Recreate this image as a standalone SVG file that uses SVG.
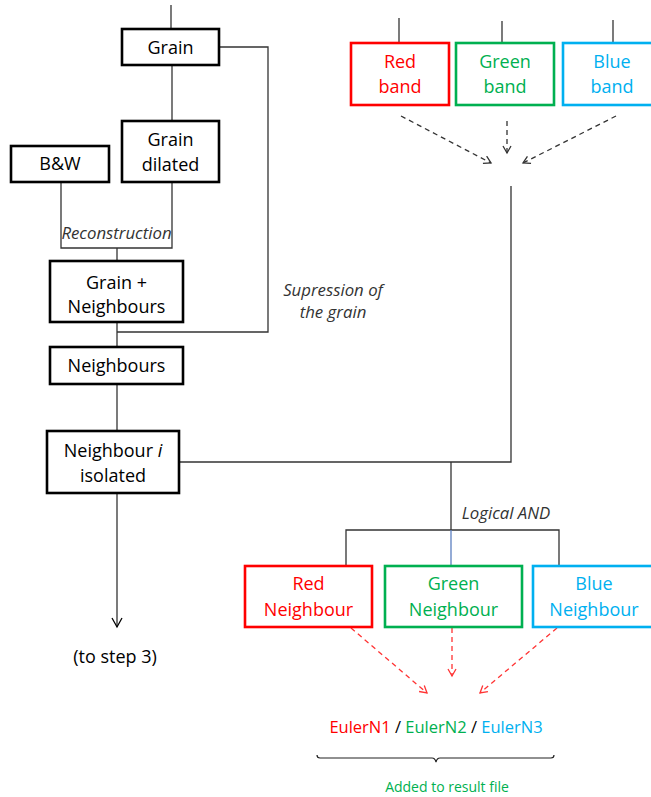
<svg xmlns="http://www.w3.org/2000/svg" width="651" height="797" viewBox="0 0 651 797">
<style>
text{font-family:"Open Sans","Liberation Sans",sans-serif;font-size:18px;text-anchor:middle}
.it{font-style:italic;font-size:16.8px;fill:#333}
.eu{font-size:16.5px}
.sm{font-size:14px}
.box{fill:#fff;stroke:#000;stroke-width:2.6}
.r{stroke:#ff0000}.g{stroke:#00b050}.b{stroke:#00b0f0}
.tr{fill:#ff0000}.tg{fill:#00b050}.tb{fill:#00b0f0}
.ln{fill:none;stroke:#333;stroke-width:1.3}
.dk{fill:none;stroke:#333;stroke-width:1.3;stroke-dasharray:5,4}
.dr{fill:none;stroke:#ff3333;stroke-width:1.3;stroke-dasharray:5,4}
</style>
<defs>
<marker id="ak" markerWidth="10" markerHeight="10" refX="8" refY="5" orient="auto" markerUnits="userSpaceOnUse"><path d="M1,1 L8,5 L1,9" fill="none" stroke="#333" stroke-width="1.3"/></marker>
<marker id="ar" markerWidth="10" markerHeight="10" refX="8" refY="5" orient="auto" markerUnits="userSpaceOnUse"><path d="M1,1 L8,5 L1,9" fill="none" stroke="#ff3333" stroke-width="1.3"/></marker>
<marker id="ab" markerWidth="12" markerHeight="12" refX="10" refY="6" orient="auto" markerUnits="userSpaceOnUse"><path d="M1,1 L10,6 L1,11" fill="none" stroke="#000" stroke-width="1.3"/></marker>
</defs>
<g id="connectors">
<path class="ln" d="M171,5 V29"/>
<path class="ln" d="M219,47 H268 V332 H117"/>
<path class="ln" d="M172,65 V121"/>
<path class="ln" d="M61,182 V248 H172 V182"/>
<path class="ln" d="M117,248 V261"/>
<path class="ln" d="M117,322 V347"/>
<path class="ln" d="M117,384 V431"/>
<path class="ln" d="M117,493 V627" stroke="#000" marker-end="url(#ab)"/>
<path class="ln" d="M179,462 H511 V186"/>
<path class="ln" d="M451,462 V530"/>
<path class="ln" d="M346,566 V530 H559 V566"/>
<path d="M451,530 V566" fill="none" stroke="#5b7fc0" stroke-width="1.3"/>
<path class="ln" d="M399,18 V43"/>
<path class="ln" d="M502,21 V43"/>
<path class="ln" d="M613,20 V43"/>
<path class="dk" d="M401,116 L491,163" marker-end="url(#ak)"/>
<path class="dk" d="M507,121 V153" marker-end="url(#ak)"/>
<path class="dk" d="M616,116 L523,163" marker-end="url(#ak)"/>
<path class="dr" d="M351,628 L427,693" marker-end="url(#ar)"/>
<path class="dr" d="M452,628 V676" marker-end="url(#ar)"/>
<path class="dr" d="M557,628 L480,693" marker-end="url(#ar)"/>
<path d="M317,755 q0,3 3,3 L432,758 q3,0 4,4 q1,-4 4,-4 L551,758 q3,0 3,-3" fill="none" stroke="#222" stroke-width="1.2"/>
</g>
<g id="grain"><rect class="box" x="122" y="29" width="97" height="36"/><text x="170.5" y="54">Grain</text></g>
<g id="grain-dilated"><rect class="box" x="122" y="121" width="97" height="61"/><text x="170.5" y="146">Grain</text><text x="170.5" y="171">dilated</text></g>
<g id="bw"><rect class="box" x="11" y="146" width="98" height="36"/><text x="60" y="170">B&amp;W</text></g>
<g id="grain-neighbours"><rect class="box" x="50" y="261" width="133" height="61"/><text x="116.5" y="289">Grain +</text><text x="116.5" y="313">Neighbours</text></g>
<g id="neighbours"><rect class="box" x="50" y="347" width="133" height="37"/><text x="116.5" y="372">Neighbours</text></g>
<g id="neighbour-i"><rect class="box" x="47" y="431" width="132" height="62"/><text x="113" y="457">Neighbour <tspan font-style="italic">i</tspan></text><text x="113" y="482">isolated</text></g>
<g id="red-band"><rect class="box r" x="351" y="43" width="98" height="62"/><text class="tr" x="400" y="68">Red</text><text class="tr" x="400" y="93">band</text></g>
<g id="green-band"><rect class="box g" x="456" y="43" width="98" height="62"/><text class="tg" x="505" y="68">Green</text><text class="tg" x="505" y="93">band</text></g>
<g id="blue-band"><rect class="box b" x="563" y="43" width="98" height="62"/><text class="tb" x="612" y="68">Blue</text><text class="tb" x="612" y="93">band</text></g>
<g id="red-neighbour"><rect class="box r" x="245" y="566" width="127" height="61"/><text class="tr" x="308.5" y="590">Red</text><text class="tr" x="308.5" y="616">Neighbour</text></g>
<g id="green-neighbour"><rect class="box g" x="385" y="566" width="137" height="61"/><text class="tg" x="453.5" y="590">Green</text><text class="tg" x="453.5" y="616">Neighbour</text></g>
<g id="blue-neighbour"><rect class="box b" x="533" y="566" width="127" height="61"/><text class="tb" x="594" y="590">Blue</text><text class="tb" x="594" y="616">Neighbour</text></g>
<g id="labels">
<text class="it" x="116.5" y="239">Reconstruction</text>
<text class="it" x="333" y="296">Supression of</text>
<text class="it" x="333" y="318">the grain</text>
<text class="it" x="506" y="519">Logical AND</text>
<text x="115" y="663">(to step 3)</text>
<text class="eu" x="436" y="733"><tspan class="tr">EulerN1</tspan> / <tspan class="tg">EulerN2</tspan> / <tspan class="tb">EulerN3</tspan></text>
<text class="tg sm" x="447" y="792">Added to result file</text>
</g>
</svg>
